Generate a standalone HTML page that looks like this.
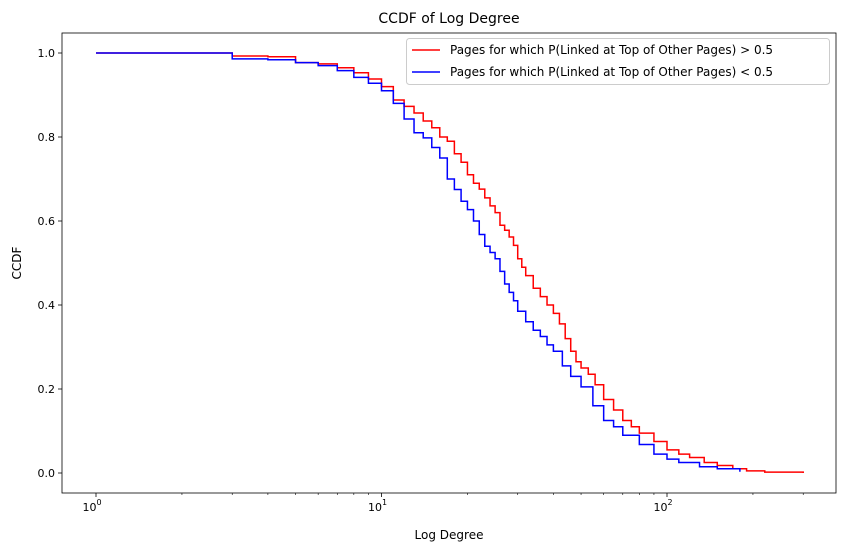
<!DOCTYPE html>
<html><head><meta charset="utf-8"><style>
body{margin:0;background:#fff;font-family:"Liberation Sans","DejaVu Sans",sans-serif;}
svg text{font-family:"DejaVu Sans","Liberation Sans",sans-serif;}
</style></head><body>
<svg id="c" width="846" height="552"></svg>
<script>
const redDeg=[1,3,4,5,6,7,8,9,10,11,12,13,14,15,16,17,18,19,20,21,22,23,24,25,26,27,28,29,30,31,32,34,36,38,40,42,44,46,48,50,53,56,60,65,70,75,80,90,100,110,120,135,150,170,190,220,300];
const redVal=[1.0,0.993,0.991,0.977,0.974,0.965,0.953,0.938,0.92,0.888,0.873,0.857,0.838,0.822,0.80,0.79,0.76,0.74,0.71,0.69,0.676,0.655,0.636,0.62,0.59,0.578,0.562,0.542,0.51,0.49,0.47,0.44,0.42,0.40,0.38,0.355,0.32,0.29,0.265,0.25,0.235,0.21,0.175,0.15,0.125,0.11,0.095,0.075,0.055,0.045,0.037,0.025,0.018,0.01,0.005,0.002,0.0];
const blueDeg=[1,3,4,5,6,7,8,9,10,11,12,13,14,15,16,17,18,19,20,21,22,23,24,25,26,27,28,29,30,32,34,36,38,40,43,46,50,55,60,65,70,80,90,100,110,130,150,180];
const blueVal=[1.0,0.986,0.984,0.977,0.97,0.958,0.942,0.928,0.91,0.88,0.843,0.81,0.798,0.775,0.75,0.70,0.675,0.647,0.627,0.60,0.568,0.54,0.525,0.51,0.48,0.45,0.43,0.41,0.385,0.36,0.34,0.325,0.305,0.29,0.255,0.23,0.205,0.16,0.125,0.11,0.09,0.068,0.045,0.033,0.025,0.015,0.01,0.003];
const yTicks=[0,0.2,0.4,0.6,0.8,1.0];
const yTickLabels=["0.0","0.2","0.4","0.6","0.8","1.0"];
const xTicks=[1,10,100];
const L=62,R=836,T=33,B=493;
const X=d=>96+285.5*Math.log10(d);
const Y=v=>473-420*v;
const svg=document.getElementById('c');
const NS='http://www.w3.org/2000/svg';
function mk(tag,attrs,parent){const e=document.createElementNS(NS,tag);for(const k in attrs)e.setAttribute(k,attrs[k]);(parent||svg).appendChild(e);return e;}
function stepPath(xs,vs){let d='M'+X(xs[0])+','+Y(vs[0]);for(let i=1;i<xs.length;i++){d+=' H'+X(xs[i])+' V'+Y(vs[i]);}return d;}
let t=mk('text',{x:449,y:23,'text-anchor':'middle','font-size':14});t.textContent='CCDF of Log Degree';


// ticks
const g=mk('g',{});


yTicks.forEach((v,i)=>{mk('line',{x1:L-4,x2:L,y1:Y(v),y2:Y(v),stroke:'#000','stroke-width':0.8},g);const tx=mk('text',{x:L-7,y:Y(v)+4,'text-anchor':'end','font-size':11},g);tx.textContent=yTickLabels[i];});
const gx=mk('g',{});


xTicks.forEach((d,i)=>{mk('line',{x1:X(d),x2:X(d),y1:B,y2:B+4,stroke:'#000','stroke-width':0.8},gx);const tx=mk('text',{x:X(d)-4,y:B+18,'text-anchor':'middle','font-size':11},gx);tx.textContent='10';const s=mk('tspan',{'font-size':8,dy:-6},tx);s.textContent=String(i);});
for(let e=0;e<3;e++)for(let k=2;k<10;k++){const d=k*Math.pow(10,e);const x=X(d);if(x>L&&x<R)mk('line',{x1:x,x2:x,y1:B,y2:B+2,stroke:'#000','stroke-width':0.6},gx);}
t=mk('text',{x:449,y:539,'text-anchor':'middle','font-size':12});t.textContent='Log Degree';


t=mk('text',{x:21,y:263,'text-anchor':'middle','font-size':12,transform:'rotate(-90 21 263)'});t.textContent='CCDF';


let p=mk('path',{d:stepPath(redDeg,redVal),fill:'none',stroke:'#f00','stroke-width':1.5});


p=mk('path',{d:stepPath(blueDeg,blueVal),fill:'none',stroke:'#00f','stroke-width':1.5});


mk('rect',{x:L,y:T,width:R-L,height:B-T,fill:'none',stroke:'#000','stroke-width':0.8});
const lg=mk('g',{});


mk('rect',{x:406.5,y:38.5,width:423,height:46,rx:3,fill:'#fff','fill-opacity':0.8,stroke:'#ccc'},lg);
mk('line',{x1:412,x2:440,y1:50,y2:50,stroke:'#f00','stroke-width':1.5},lg);
mk('line',{x1:412,x2:440,y1:72,y2:72,stroke:'#00f','stroke-width':1.5},lg);
let l1=mk('text',{x:450,y:54,'font-size':12},lg);l1.textContent='Pages for which P(Linked at Top of Other Pages) > 0.5';


let l2=mk('text',{x:450,y:76,'font-size':12},lg);l2.textContent='Pages for which P(Linked at Top of Other Pages) < 0.5';


</script>
</body></html>
